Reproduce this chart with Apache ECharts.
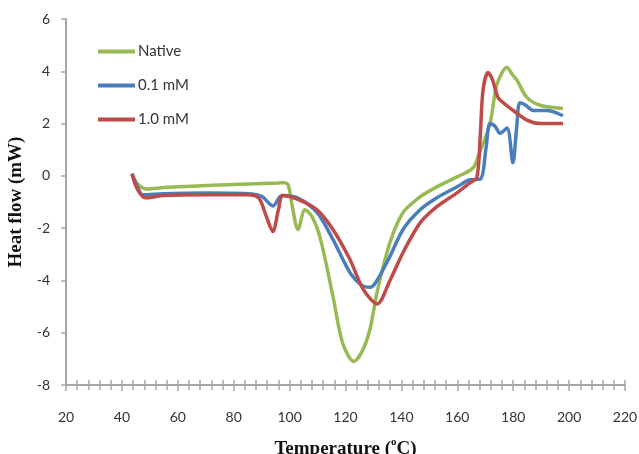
<!DOCTYPE html>
<html><head><meta charset="utf-8">
<script src="https://cdn.jsdelivr.net/npm/echarts@6/dist/echarts.min.js"></script>
<style>html,body{margin:0;padding:0;background:#fff}#c{width:639px;height:454px}</style>
</head><body><div id="c"></div>
<script>
const xTicks = [20, 40, 60, 80, 100, 120, 140, 160, 180, 200, 220];
const yTicks = [-8, -6, -4, -2, 0, 2, 4, 6];
const seriesNames = ['Native', '0.1 mM', '1.0 mM'];

const nativeX = [43.6, 45.5, 49, 55, 65, 80, 96, 98, 99.5, 101, 103, 105.5, 108, 111, 115.5, 119, 123, 126, 128.8, 131.3, 135.9, 140.6, 146.7, 152.7, 159.9, 165.6, 168, 171.7, 174.2, 177.8, 179.5, 181.4, 184.9, 189.6, 197.8];
const nativeY = [0.08, -0.3, -0.5, -0.45, -0.4, -0.33, -0.27, -0.26, -0.35, -1.2, -2.05, -1.3, -1.55, -2.4, -4.6, -6.4, -7.1, -6.7, -5.85, -4.45, -2.55, -1.4, -0.8, -0.42, -0.04, 0.3, 0.9, 2.0, 3.5, 4.15, 3.9, 3.65, 3.0, 2.7, 2.58];

const lowX = [43.6, 45.5, 47.5, 55, 70, 85, 90, 94, 97.3, 103, 109.8, 115.5, 121.6, 126, 128.8, 131, 135.9, 140.6, 146.7, 152.7, 159.9, 164.5, 168.3, 170.2, 171.7, 173.5, 175.3, 177.8, 179.9, 181.2, 182.4, 184.5, 187.1, 192, 197.8];
const lowY = [0.08, -0.4, -0.72, -0.68, -0.66, -0.68, -0.78, -1.15, -0.75, -0.85, -1.4, -2.43, -3.7, -4.2, -4.26, -4.05, -3.08, -2.05, -1.3, -0.84, -0.42, -0.15, -0.12, 1.0, 2.0, 1.9, 1.63, 1.83, 0.5, 1.8, 2.8, 2.7, 2.5, 2.5, 2.3];

const highX = [43.6, 45.5, 48.3, 55, 70, 85, 89, 91.5, 94, 96, 97.6, 103, 109.8, 115.5, 121.6, 126.3, 131.3, 135.9, 140.6, 146.7, 152.7, 159.9, 164.5, 167, 168.2, 169.2, 171, 172.5, 174.6, 177, 180, 184.9, 189.6, 197.8];
const highY = [0.08, -0.5, -0.84, -0.75, -0.72, -0.72, -0.85, -1.5, -2.13, -1.3, -0.75, -0.9, -1.3, -2.05, -3.2, -4.33, -4.9, -4.0, -2.93, -1.8, -1.18, -0.65, -0.27, -0.06, 1.5, 3.27, 3.95, 3.7, 3.0, 2.75, 2.5, 2.13, 2.0, 2.0];

const colors = ['#98B954', '#4A7EBB', '#BE4B48'];
const zip = (xs, ys) => xs.map((x, i) => [x, ys[i]]);
const gray = '#a6a6a6';
const tickFont = {fontFamily: 'Lato', fontSize: 14, color: '#333'};
const titleFont = {fontFamily: 'Liberation Serif', fontWeight: 'bold', fontSize: 19, color: '#111'};

const chart = echarts.init(document.getElementById('c'));
chart.setOption({
  animation: false,
  grid: {left: 66, right: 14, top: 19, bottom: 69, outerBoundsMode: 'none', containLabel: false},
  legend: {
    orient: 'vertical', left: 98, top: 44, itemGap: 19, padding: 0,
    itemWidth: 37, itemHeight: 4, icon: 'rect',
    textStyle: {fontFamily: 'Lato', fontSize: 15, color: '#333', padding: [0, 0, 0, -2]},
    data: seriesNames
  },
  xAxis: [{
    type: 'value', min: xTicks[0], max: xTicks[xTicks.length - 1], interval: 20,
    axisLine: {onZero: false, lineStyle: {color: gray, width: 2}},
    axisTick: {show: true, length: 6, lineStyle: {color: gray, width: 1.5}},
    minorTick: {show: true, splitNumber: 5, length: 5, lineStyle: {color: gray, width: 1.5}},
    axisLabel: Object.assign({margin: 25}, tickFont),
    splitLine: {show: false},
    name: '{t|Temperature (}{s|o}{t|C)}', nameLocation: 'middle', nameGap: 52,
    nameTextStyle: {rich: {
      t: titleFont,
      s: Object.assign({}, titleFont, {fontSize: 11, padding: [0, 0, 14, 0]})
    }}
  }, {
    type: 'value', min: xTicks[0], max: xTicks[xTicks.length - 1], interval: 20,
    position: 'bottom', offset: 0,
    axisLine: {show: false, onZero: false},
    axisTick: {show: true, inside: true, length: 5, lineStyle: {color: gray, width: 1.5}},
    minorTick: {show: true, splitNumber: 5, length: 5, lineStyle: {color: gray, width: 1.5}},
    axisLabel: {show: false}, splitLine: {show: false}
  }],
  yAxis: {
    type: 'value', min: yTicks[0], max: yTicks[yTicks.length - 1], interval: 2,
    axisLine: {show: true, lineStyle: {color: gray, width: 2}},
    axisTick: {show: true, length: 5, lineStyle: {color: gray, width: 1.5}},
    axisLabel: Object.assign({margin: 16}, tickFont),
    splitLine: {show: false},
    name: 'Heat flow (mW)', nameLocation: 'middle', nameGap: 34,
    nameTextStyle: titleFont
  },
  series: [
    {name: seriesNames[0], data: zip(nativeX, nativeY)},
    {name: seriesNames[1], data: zip(lowX, lowY)},
    {name: seriesNames[2], data: zip(highX, highY)}
  ].map((s, i) => Object.assign({
    type: 'line', xAxisIndex: 0, smooth: 0.3, showSymbol: false, symbol: 'none',
    color: colors[i], lineStyle: {width: 3.5, color: colors[i]}
  }, s))
});
</script></body></html>
